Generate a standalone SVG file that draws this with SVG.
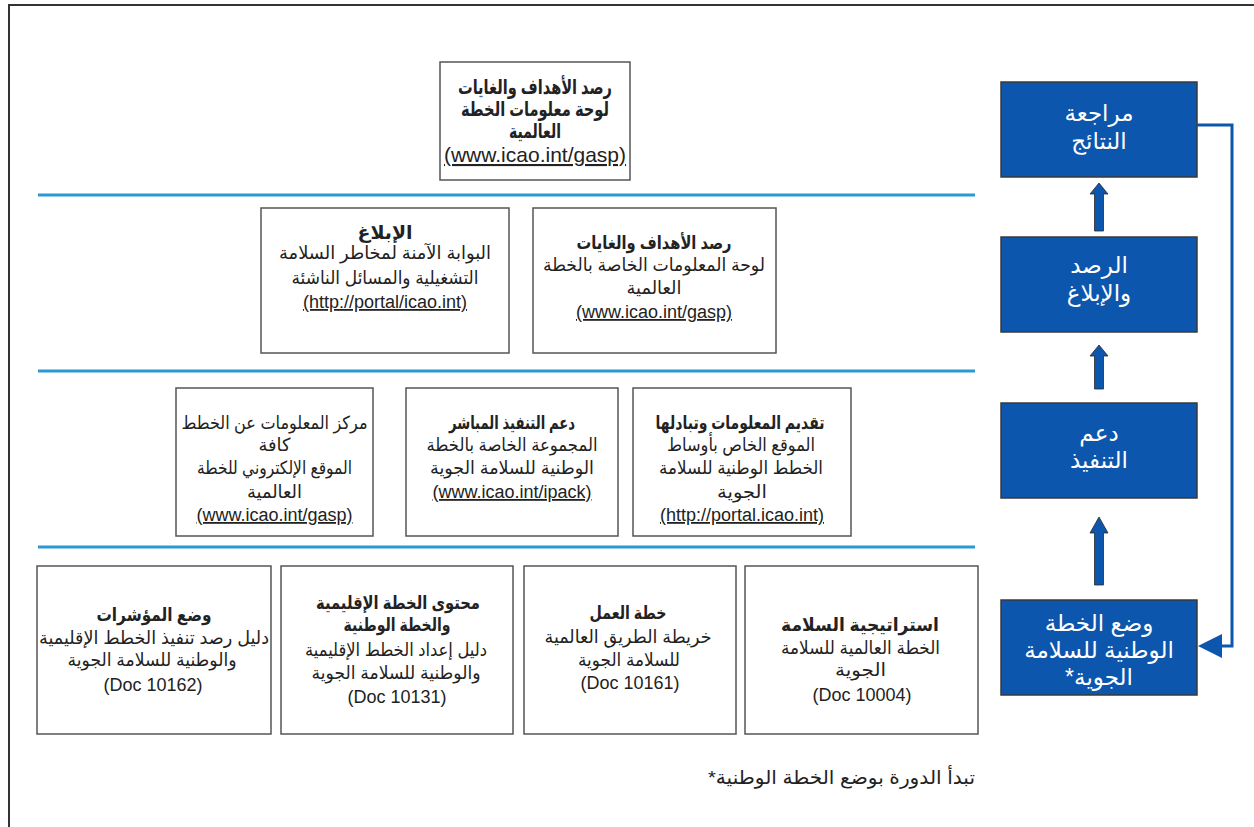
<svg xmlns="http://www.w3.org/2000/svg" width="1254" height="827" viewBox="0 0 1254 827">
<style>
.box{fill:#fff;stroke:#555;stroke-width:1.5}
.bbox{fill:#0c56ad;stroke:#3a3a3a;stroke-width:1.5}
.sep{stroke:#2b9ad4;stroke-width:3;fill:none}
text{font-family:"Liberation Sans","DejaVu Sans",sans-serif;font-size:18px;fill:#222;text-anchor:middle}
.ar{direction:rtl}
.b{font-weight:bold}
.u{text-decoration:underline}
.big{font-size:21px}
.tb{font-size:20px}
.w{fill:#fff;font-size:23px}
.arrow{fill:#0c56ad;stroke:#2a2a2a;stroke-width:0.8}
.fb{fill:none;stroke:#0c56ad;stroke-width:3}
</style>
<rect x="0" y="0" width="1254" height="827" fill="#fff"/>
<path d="M9 827V5H1254" fill="none" stroke="#333" stroke-width="2"/>
<g id="separators">
<line class="sep" x1="38" y1="195" x2="975" y2="195"/>
<line class="sep" x1="38" y1="371" x2="975" y2="371"/>
<line class="sep" x1="38" y1="547" x2="975" y2="547"/>
</g>
<g id="top-gasp">
<rect class="box" x="440" y="62" width="190" height="118"/>
<text class="ar b tb" x="535" y="94" textLength="154" lengthAdjust="spacingAndGlyphs">رصد الأهداف والغايات</text>
<text class="ar b tb" x="535" y="116" textLength="148" lengthAdjust="spacingAndGlyphs">لوحة معلومات الخطة</text>
<text class="ar b tb" x="535" y="138" textLength="52" lengthAdjust="spacingAndGlyphs">العالمية</text>
<text class="u big" x="535" y="162">(www.icao.int/gasp)</text>
</g>
<g id="reporting">
<rect class="box" x="261" y="208" width="248" height="145"/>
<text class="ar b" x="385" y="239" textLength="55" lengthAdjust="spacingAndGlyphs">الإبلاغ</text>
<text class="ar" x="385" y="259" textLength="212" lengthAdjust="spacingAndGlyphs">البوابة الآمنة لمخاطر السلامة</text>
<text class="ar" x="385" y="284" textLength="187" lengthAdjust="spacingAndGlyphs">التشغيلية والمسائل الناشئة</text>
<text class="u" x="385" y="308">(http://portal/icao.int)</text>
</g>
<g id="monitoring">
<rect class="box" x="533" y="208" width="243" height="145"/>
<text class="ar b" x="654" y="249" textLength="155" lengthAdjust="spacingAndGlyphs">رصد الأهداف والغايات</text>
<text class="ar" x="654" y="271" textLength="222" lengthAdjust="spacingAndGlyphs">لوحة المعلومات الخاصة بالخطة</text>
<text class="ar" x="654" y="294" textLength="55" lengthAdjust="spacingAndGlyphs">العالمية</text>
<text class="u" x="654" y="318">(www.icao.int/gasp)</text>
</g>
<g id="info-centre">
<rect class="box" x="176" y="388" width="197" height="148"/>
<text class="ar" x="274.5" y="429" textLength="186" lengthAdjust="spacingAndGlyphs">مركز المعلومات عن الخطط</text>
<text class="ar" x="274.5" y="451" textLength="32" lengthAdjust="spacingAndGlyphs">كافة</text>
<text class="ar" x="274.5" y="474" textLength="155" lengthAdjust="spacingAndGlyphs">الموقع الإلكتروني للخطة</text>
<text class="ar" x="274.5" y="498" textLength="55" lengthAdjust="spacingAndGlyphs">العالمية</text>
<text class="u" x="274.5" y="521">(www.icao.int/gasp)</text>
</g>
<g id="direct-support">
<rect class="box" x="406" y="388" width="212" height="148"/>
<text class="ar b" x="512" y="429" textLength="126" lengthAdjust="spacingAndGlyphs">دعم التنفيذ المباشر</text>
<text class="ar" x="512" y="451" textLength="171" lengthAdjust="spacingAndGlyphs">المجموعة الخاصة بالخطة</text>
<text class="ar" x="512" y="474" textLength="164" lengthAdjust="spacingAndGlyphs">الوطنية للسلامة الجوية</text>
<text class="u" x="512" y="498">(www.icao.int/ipack)</text>
</g>
<g id="info-exchange">
<rect class="box" x="633" y="388" width="218" height="148"/>
<text class="ar b" x="740" y="429" textLength="169" lengthAdjust="spacingAndGlyphs">تقديم المعلومات وتبادلها</text>
<text class="ar" x="741" y="451" textLength="148" lengthAdjust="spacingAndGlyphs">الموقع الخاص بأوساط</text>
<text class="ar" x="741" y="474" textLength="164" lengthAdjust="spacingAndGlyphs">الخطط الوطنية للسلامة</text>
<text class="ar" x="742" y="498" textLength="50" lengthAdjust="spacingAndGlyphs">الجوية</text>
<text class="u" x="742" y="521">(http://portal.icao.int)</text>
</g>
<g id="indicators">
<rect class="box" x="37" y="566" width="234" height="168"/>
<text class="ar b" x="154" y="621" textLength="115" lengthAdjust="spacingAndGlyphs">وضع المؤشرات</text>
<text class="ar" x="154" y="644" textLength="230" lengthAdjust="spacingAndGlyphs">دليل رصد تنفيذ الخطط الإقليمية</text>
<text class="ar" x="152" y="666" textLength="169" lengthAdjust="spacingAndGlyphs">والوطنية للسلامة الجوية</text>
<text x="153" y="691">(Doc 10162)</text>
</g>
<g id="plan-content">
<rect class="box" x="281" y="566" width="232" height="168"/>
<text class="ar b" x="398" y="609" textLength="164" lengthAdjust="spacingAndGlyphs">محتوى الخطة الإقليمية</text>
<text class="ar b" x="397" y="631" textLength="107" lengthAdjust="spacingAndGlyphs">والخطة الوطنية</text>
<text class="ar" x="396" y="656" textLength="182" lengthAdjust="spacingAndGlyphs">دليل إعداد الخطط الإقليمية</text>
<text class="ar" x="396" y="679" textLength="169" lengthAdjust="spacingAndGlyphs">والوطنية للسلامة الجوية</text>
<text x="397" y="703">(Doc 10131)</text>
</g>
<g id="action-plan">
<rect class="box" x="524" y="566" width="212" height="168"/>
<text class="ar b" x="628" y="619" textLength="77" lengthAdjust="spacingAndGlyphs">خطة العمل</text>
<text class="ar" x="628" y="643" textLength="167" lengthAdjust="spacingAndGlyphs">خريطة الطريق العالمية</text>
<text class="ar" x="629" y="666" textLength="102" lengthAdjust="spacingAndGlyphs">للسلامة الجوية</text>
<text x="630" y="689">(Doc 10161)</text>
</g>
<g id="safety-strategy">
<rect class="box" x="745" y="566" width="233" height="168"/>
<text class="ar b" x="860" y="631" textLength="158" lengthAdjust="spacingAndGlyphs">استراتيجية السلامة</text>
<text class="ar" x="860.5" y="654" textLength="159" lengthAdjust="spacingAndGlyphs">الخطة العالمية للسلامة</text>
<text class="ar" x="860.5" y="676" textLength="51" lengthAdjust="spacingAndGlyphs">الجوية</text>
<text x="862" y="701">(Doc 10004)</text>
</g>
<g id="review">
<rect class="bbox" x="1001" y="82" width="196" height="95"/>
<text class="ar w" x="1099" y="121">مراجعة</text>
<text class="ar w" x="1099" y="149">النتائج</text>
</g>
<g id="monitor-report">
<rect class="bbox" x="1001" y="237" width="196" height="95"/>
<text class="ar w" x="1099" y="273">الرصد</text>
<text class="ar w" x="1099" y="301">والإبلاغ</text>
</g>
<g id="support-impl">
<rect class="bbox" x="1001" y="403" width="196" height="95"/>
<text class="ar w" x="1099" y="441">دعم</text>
<text class="ar w" x="1099" y="468">التنفيذ</text>
</g>
<g id="develop-plan">
<rect class="bbox" x="1001" y="600" width="196" height="95"/>
<text class="ar w" x="1099" y="631">وضع الخطة</text>
<text class="ar w" x="1099" y="658">الوطنية للسلامة</text>
<text class="ar w" x="1099" y="685">الجوية*</text>
</g>
<g id="connectors">
<polygon class="arrow" points="1099,183 1108,194 1103.5,194 1103.5,231 1094.5,231 1094.5,194 1090,194"/>
<polygon class="arrow" points="1099,345 1108,356 1103.5,356 1103.5,389 1094.5,389 1094.5,356 1090,356"/>
<polygon class="arrow" points="1099,517 1108,533 1103.5,533 1103.5,585 1094.5,585 1094.5,533 1090,533"/>
<polyline class="fb" points="1197,125 1232,125 1232,646 1220,646"/>
<polygon fill="#0c56ad" points="1198,646 1222,634 1222,658"/>
</g>
<text class="ar" x="975" y="784" style="text-anchor:start;font-size:19px" textLength="267" lengthAdjust="spacingAndGlyphs">تبدأ الدورة بوضع الخطة الوطنية*</text>
</svg>
